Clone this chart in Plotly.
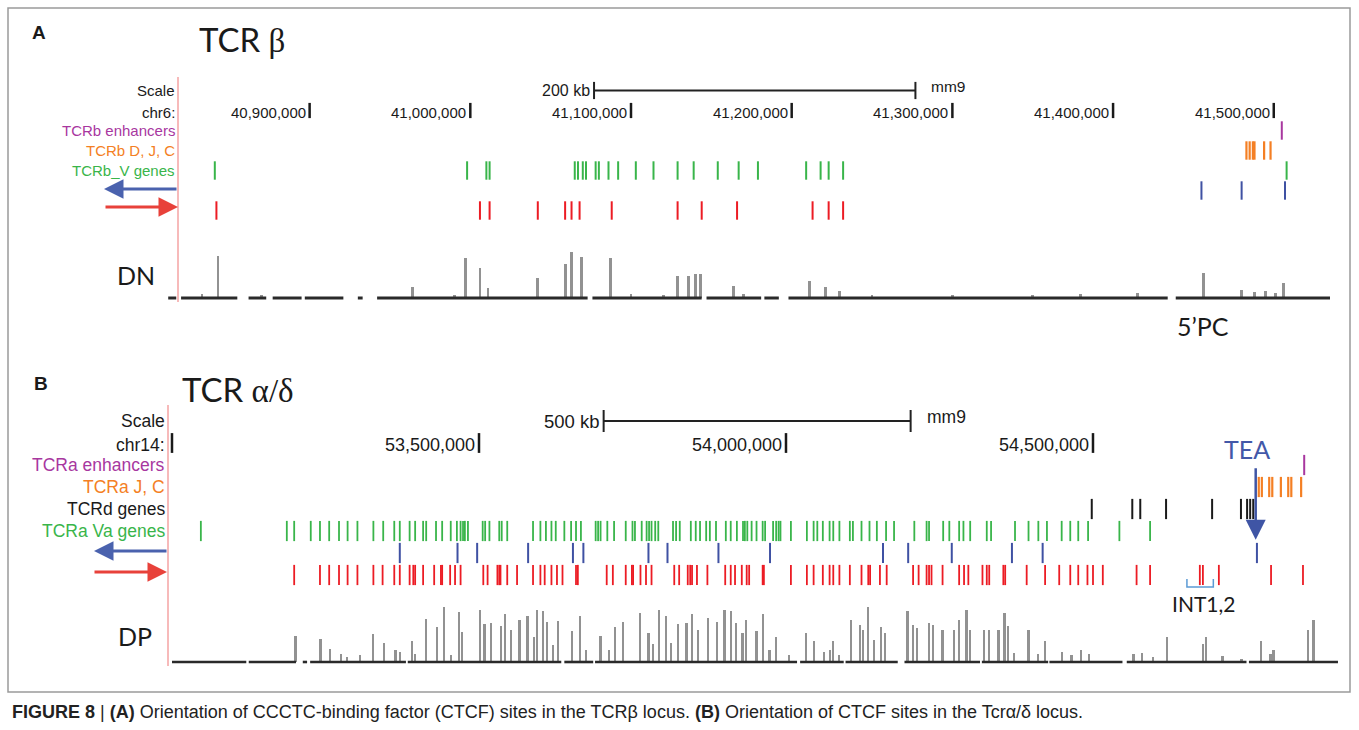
import plotly.graph_objects as go

W, H = 1359, 730

# ================= Panel A : TCRb locus (mm9 chr6, positions in kb) =================
A_TICKS_KB = [40900, 41000, 41100, 41200, 41300, 41400, 41500]
A_TICK_LABELS = ["40,900,000", "41,000,000", "41,100,000", "41,200,000",
                 "41,300,000", "41,400,000", "41,500,000"]
A_SCALE_START_KB = 41077
A_SCALE_LEN_KB = 200
A_ENHANCERS = [41505]
A_DJC = [41483, 41485, 41487, 41488, 41494, 41498]
A_V_GENES = [40841, 40998, 41010, 41012, 41065, 41067, 41070, 41072, 41078, 41080,
             41086, 41092, 41103, 41114, 41129, 41139, 41154, 41167, 41179, 41209,
             41218, 41223, 41232, 41508]
A_CTCF_REV = [41455, 41480, 41507]
A_CTCF_FWD = [40842, 41006, 41012, 41042, 41059, 41063, 41068, 41088, 41129, 41144,
              41166, 41213, 41223, 41232]
A_DN_SEGMENTS = [(40812, 40817), (40820, 40855), (40862, 40873), (40877, 40895),
                 (40897, 40921), (40930, 40933), (40942, 41073), (41076, 41144),
                 (41147, 41181), (41183, 41192), (41198, 41434), (41439, 41535)]
A_DN_PEAK_POS = [40833, 40843, 40870, 40964, 40990, 40997, 41006, 41011, 41042, 41059,
                 41063, 41069, 41087, 41100, 41120, 41129, 41136, 41140, 41143, 41164,
                 41170, 41211, 41221, 41230, 41250, 41300, 41350, 41380, 41415, 41456,
                 41480, 41488, 41495, 41501, 41506]
A_DN_PEAK_H = [4, 42, 3, 11, 3, 40, 30, 10, 20, 34,
               46, 41, 40, 4, 3, 22, 22, 24, 24, 12,
               4, 17, 11, 7, 3, 3, 3, 4, 5, 25,
               8, 6, 7, 5, 15]

# ================= Panel B : TCRa/d locus (mm9 chr14, positions in kb) =================
B_TICKS_KB = [53000, 53500, 54000, 54500]
B_TICK_LABELS = ["", "53,500,000", "54,000,000", "54,500,000"]
B_SCALE_START_KB = 53703
B_SCALE_LEN_KB = 500
B_ENHANCERS = [54844]
B_JC = [54770, 54775, 54787, 54792, 54806, 54818, 54823, 54839]
B_D_GENES = [54498, 54564, 54577, 54619, 54694, 54741, 54751, 54756, 54761]
B_VA_GENES = [53047, 53187, 53199, 53226, 53241, 53256, 53272, 53286, 53302, 53328,
              53344, 53362, 53371, 53387, 53396, 53409, 53414, 53430, 53440, 53454,
              53464, 53470, 53474, 53477, 53482, 53506, 53510, 53517, 53533, 53537,
              53546, 53588, 53600, 53609, 53618, 53625, 53639, 53650, 53658, 53666,
              53690, 53694, 53698, 53709, 53720, 53739, 53750, 53754, 53765, 53773,
              53777, 53781, 53787, 53792, 53816, 53821, 53827, 53845, 53853, 53860,
              53870, 53876, 53886, 53902, 53910, 53920, 53930, 53933, 53937, 53944,
              53952, 53962, 53966, 53979, 53984, 53988, 53991, 54008, 54034, 54045,
              54051, 54060, 54071, 54077, 54087, 54104, 54109, 54123, 54136, 54148,
              54163, 54176, 54209, 54229, 54233, 54256, 54266, 54282, 54289, 54300,
              54327, 54334, 54373, 54395, 54411, 54425, 54449, 54463, 54476, 54492,
              54543, 54593]
B_CTCF_REV = [53371, 53465, 53497, 53580, 53653, 53670, 53776, 53807, 53890, 53974,
              54158, 54199, 54270, 54368, 54418, 54767]
B_CTCF_FWD = [53199, 53241, 53256, 53272, 53286, 53302, 53328, 53343, 53362, 53371,
              53387, 53393, 53396, 53409, 53427, 53438, 53440, 53453, 53461, 53470,
              53507, 53514, 53530, 53533, 53535, 53546, 53562, 53588, 53600, 53607,
              53618, 53627, 53636, 53658, 53661, 53708, 53718, 53739, 53749, 53751,
              53763, 53772, 53781, 53818, 53826, 53840, 53844, 53847, 53855, 53872,
              53901, 53910, 53917, 53928, 53936, 53940, 53962, 53964, 54008, 54034,
              54045, 54060, 54071, 54077, 54087, 54104, 54123, 54134, 54137, 54153,
              54164, 54207, 54216, 54229, 54233, 54237, 54255, 54282, 54290, 54297,
              54320, 54327, 54331, 54354, 54357, 54392, 54422, 54445, 54463, 54476,
              54491, 54500, 54516, 54571, 54593, 54674, 54679, 54705, 54790, 54842]
B_TEA_KB = 54765
B_INT_REGION = (54653, 54696)
B_DP_SEGMENTS = [(53000, 53121), (53125, 53202), (53213, 53220), (53225, 53381),
                 (53384, 53634), (53639, 53686), (53689, 54018), (54023, 54094),
                 (54097, 54182), (54193, 54316), (54319, 54427), (54429, 54548),
                 (54555, 54750), (54754, 54899)]
B_DP_PEAK_POS = [53201, 53242, 53257, 53275, 53285, 53306, 53328, 53345, 53364, 53371,
                 53391, 53396, 53414, 53431, 53443, 53454, 53467, 53472, 53501, 53509,
                 53520, 53536, 53542, 53552, 53566, 53579, 53590, 53595, 53604, 53611,
                 53620, 53629, 53651, 53664, 53674, 53698, 53712, 53722, 53735, 53762,
                 53776, 53783, 53793, 53804, 53813, 53824, 53838, 53847, 53857, 53873,
                 53888, 53900, 53911, 53918, 53929, 53935, 53952, 53962, 53973, 53984,
                 54005, 54033, 54045, 54062, 54072, 54077, 54086, 54106, 54120, 54125,
                 54134, 54143, 54155, 54161, 54198, 54207, 54214, 54233, 54239, 54255,
                 54273, 54282, 54294, 54300, 54323, 54330, 54346, 54356, 54361, 54371,
                 54395, 54411, 54422, 54450, 54465, 54480, 54493, 54566, 54580, 54598,
                 54621, 54679, 54684, 54711, 54742, 54774, 54789, 54794, 54850, 54859]
B_DP_PEAK_H = [26, 23, 13, 8, 5, 7, 28, 19, 12, 10,
               21, 8, 43, 35, 55, 7, 50, 30, 52, 38,
               39, 36, 48, 32, 42, 46, 25, 52, 51, 40,
               17, 41, 31, 46, 12, 26, 12, 35, 40, 49,
               29, 18, 52, 46, 19, 38, 39, 48, 32, 44,
               40, 52, 51, 39, 29, 42, 31, 48, 12, 25,
               7, 29, 21, 10, 12, 21, 7, 42, 37, 32,
               55, 22, 35, 29, 51, 37, 34, 39, 37, 32,
               32, 42, 52, 32, 32, 32, 32, 49, 36, 9,
               32, 8, 21, 10, 7, 12, 8, 8, 9, 5,
               25, 18, 25, 6, 3, 21, 8, 12, 32, 42]

# ================= styles =================
PURPLE = "#a8379f"
ORANGE = "#f47f24"
GREEN = "#39b54a"
BLUE = "#3f51a3"
RED = "#ec1c24"
BLACK = "#1a1a1a"
GRAY_PEAK = "rgba(110,110,110,0.75)"
UCSC_FONT = "Liberation Sans"
TITLE_FONT = "Lato"


def py(p):
    return 1 - p / H


def px(p):
    return p / W


fig = go.Figure()


def tick_trace(xs, row, half, color, width, xa, ya):
    X, Y = [], []
    for x in xs:
        X += [x, x, None]
        Y += [row - half, row + half, None]
    return go.Scatter(x=X, y=Y, mode="lines", line=dict(color=color, width=width),
                      xaxis=xa, yaxis=ya, hoverinfo="skip", showlegend=False)


def seg_trace(segs, color, width, xa, ya):
    X, Y = [], []
    for s, e in segs:
        X += [s, e, None]
        Y += [0, 0, None]
    return go.Scatter(x=X, y=Y, mode="lines", line=dict(color=color, width=width),
                      xaxis=xa, yaxis=ya, hoverinfo="skip", showlegend=False)


# ---- Panel A tracks (rows: 0 enh, 1 DJC, 2 V, 3 rev, 4 fwd; -2 scale, -1 chr)
fig.add_trace(tick_trace(A_ENHANCERS, 0, 0.46, PURPLE, 2, "x", "y"))
fig.add_trace(tick_trace(A_DJC, 1, 0.46, ORANGE, 2.2, "x", "y"))
fig.add_trace(tick_trace(A_V_GENES, 2, 0.46, GREEN, 2, "x", "y"))
fig.add_trace(tick_trace(A_CTCF_REV, 3, 0.46, BLUE, 2, "x", "y"))
fig.add_trace(tick_trace(A_CTCF_FWD, 4, 0.46, RED, 2, "x", "y"))
fig.add_trace(tick_trace(A_TICKS_KB, -1, 0.38, BLACK, 2.5, "x", "y"))
# scale bar A
a_s0, a_s1 = A_SCALE_START_KB, A_SCALE_START_KB + A_SCALE_LEN_KB
fig.add_trace(go.Scatter(x=[a_s0, a_s1, None, a_s0, a_s0, None, a_s1, a_s1],
                         y=[-2, -2, None, -2.43, -1.57, None, -2.43, -1.57],
                         mode="lines", line=dict(color="#222", width=2),
                         xaxis="x", yaxis="y", hoverinfo="skip", showlegend=False))
# DN signal
fig.add_trace(go.Bar(x=A_DN_PEAK_POS, y=A_DN_PEAK_H, width=1.8,
                     marker=dict(color=GRAY_PEAK, line=dict(width=0)),
                     xaxis="x", yaxis="y3", hoverinfo="skip", showlegend=False))
fig.add_trace(seg_trace(A_DN_SEGMENTS, "#2a2a2a", 3, "x", "y3"))

# ---- Panel B tracks (rows: 0 enh, 1 JC, 2 d genes, 3 Va, 4 rev, 5 fwd)
fig.add_trace(tick_trace(B_ENHANCERS, 0, 0.46, PURPLE, 2, "x2", "y2"))
fig.add_trace(tick_trace(B_JC, 1, 0.46, ORANGE, 2.2, "x2", "y2"))
fig.add_trace(tick_trace(B_D_GENES, 2, 0.46, BLACK, 2, "x2", "y2"))
fig.add_trace(tick_trace(B_VA_GENES, 3, 0.46, GREEN, 1.8, "x2", "y2"))
fig.add_trace(tick_trace(B_CTCF_REV, 4, 0.46, BLUE, 2, "x2", "y2"))
fig.add_trace(tick_trace(B_CTCF_FWD, 5, 0.46, RED, 1.8, "x2", "y2"))
fig.add_trace(tick_trace(B_TICKS_KB, -1, 0.45, BLACK, 2.5, "x2", "y2"))
b_s0, b_s1 = B_SCALE_START_KB, B_SCALE_START_KB + B_SCALE_LEN_KB
fig.add_trace(go.Scatter(x=[b_s0, b_s1, None, b_s0, b_s0, None, b_s1, b_s1],
                         y=[-2, -2, None, -2.5, -1.5, None, -2.5, -1.5],
                         mode="lines", line=dict(color="#222", width=2),
                         xaxis="x2", yaxis="y2", hoverinfo="skip", showlegend=False))
# INT1,2 bracket
i0, i1 = B_INT_REGION
fig.add_trace(go.Scatter(x=[i0, i0, i1, i1], y=[5.18, 5.55, 5.55, 5.18], mode="lines",
                         line=dict(color="#5b9bd5", width=1.5), xaxis="x2", yaxis="y2",
                         hoverinfo="skip", showlegend=False))
# DP signal
fig.add_trace(go.Bar(x=B_DP_PEAK_POS, y=B_DP_PEAK_H, width=3.6,
                     marker=dict(color=GRAY_PEAK, line=dict(width=0)),
                     xaxis="x2", yaxis="y4", hoverinfo="skip", showlegend=False))
fig.add_trace(seg_trace(B_DP_SEGMENTS, "#2a2a2a", 2.6, "x2", "y4"))

ann = []


def add_text(text, x, y, size, color="#1a1a1a", font=UCSC_FONT, xanchor="left",
             yanchor="middle", xref="paper", yref="paper", xshift=0, yshift=0):
    ann.append(dict(text=text, x=x, y=y, xref=xref, yref=yref, showarrow=False,
                    xanchor=xanchor, yanchor=yanchor, xshift=xshift, yshift=yshift,
                    font=dict(family=font, size=size, color=color)))


# panel letters & titles
add_text("<b>A</b>", px(30), py(33), 19, font="Liberation Sans")
add_text("<b>B</b>", px(32), py(384), 19, font="Liberation Sans")
add_text("TCR <span style='font-family:Liberation Serif'>β</span>", px(197), py(39), 33, font=TITLE_FONT)
add_text("TCR <span style='font-family:Liberation Serif'>α/δ</span>", px(180), py(389), 33, font=TITLE_FONT)

# left labels A
for txt, row, col in [("Scale", -2, BLACK), ("chr6:", -1, BLACK),
                      ("TCRb enhancers", 0, PURPLE), ("TCRb D, J, C", 1, ORANGE),
                      ("TCRb_V genes", 2, GREEN)]:
    add_text(txt, px(176.5), row, 15, color=col, xanchor="right", yref="y",
             yshift=-2 if row == -1 else 0)
# left labels B
for txt, row, col in [("Scale", -2, BLACK), ("chr14:", -1, BLACK),
                      ("TCRa enhancers", 0, PURPLE), ("TCRa J, C", 1, ORANGE),
                      ("TCRd genes", 2, BLACK), ("TCRa Va genes", 3, GREEN)]:
    add_text(txt, px(167), row, 17.5, color=col, xanchor="right", yref="y2",
             yshift=-2 if row == -1 else 0)

# chromosome tick labels
for kb, lab in zip(A_TICKS_KB, A_TICK_LABELS):
    add_text(lab, kb, -1, 15, xanchor="right", xref="x", yref="y", xshift=-2, yshift=-2)
for kb, lab in zip(B_TICKS_KB, B_TICK_LABELS):
    if lab:
        add_text(lab, kb, -1, 18, xanchor="right", xref="x2", yref="y2", xshift=-2, yshift=-2)

# scale bar labels
add_text(f"{A_SCALE_LEN_KB} kb", a_s0, -2, 16, xanchor="right", xref="x", yref="y", xshift=-2)
add_text("mm9", a_s1, -2, 15.5, xanchor="left", xref="x", yref="y", xshift=14, yshift=4)
add_text(f"{B_SCALE_LEN_KB} kb", b_s0, -2, 18.5, xanchor="right", xref="x2", yref="y2", xshift=-2)
add_text("mm9", b_s1, -2, 17.5, xanchor="left", xref="x2", yref="y2", xshift=14, yshift=4)

# track annotations
add_text("DN", px(136), py(275), 25, font=TITLE_FONT, xanchor="center")
add_text("DP", px(135), py(636), 25, font=TITLE_FONT, xanchor="center")
add_text("5’PC", px(1203), py(326), 25, font=TITLE_FONT, xanchor="center")
add_text("INT1,2", (i0 + i1) / 2 + 6, py(603), 21, font=TITLE_FONT, xanchor="center", xref="x2")
add_text("TEA", B_TEA_KB - 14, -0.75, 25, color="#4358a8", font=TITLE_FONT, xanchor="center",
         xref="x2", yref="y2")

# caption
add_text("<b>FIGURE 8</b> | <b>(A)</b> Orientation of CCCTC-binding factor (CTCF) sites in the TCRβ locus. "
         "<b>(B)</b> Orientation of CTCF sites in the Tcrα/δ locus.",
         px(10), py(712), 18, color="#222")

# arrows (strand orientation)
ann.append(dict(x=px(104), y=py(189), xref="paper", yref="paper", ax=74, ay=0,
                showarrow=True, arrowhead=2, arrowsize=1.3, arrowwidth=3, arrowcolor="#4a62ae", text=""))
ann.append(dict(x=px(178), y=py(207), xref="paper", yref="paper", ax=-74, ay=0,
                showarrow=True, arrowhead=2, arrowsize=1.3, arrowwidth=3, arrowcolor="#e8413a", text=""))
ann.append(dict(x=px(94), y=py(551), xref="paper", yref="paper", ax=74, ay=0,
                showarrow=True, arrowhead=2, arrowsize=1.3, arrowwidth=3, arrowcolor="#4a62ae", text=""))
ann.append(dict(x=px(167), y=py(572), xref="paper", yref="paper", ax=-74, ay=0,
                showarrow=True, arrowhead=2, arrowsize=1.3, arrowwidth=3, arrowcolor="#e8413a", text=""))
# TEA arrow
ann.append(dict(x=B_TEA_KB, y=3.4, xref="x2", yref="y2", ax=0, ay=-73,
                showarrow=True, arrowhead=2, arrowsize=1.6, arrowwidth=2.5, arrowcolor="#3f55a5", text=""))

shapes = [
    dict(type="rect", xref="paper", yref="paper", x0=px(8), x1=px(1350), y0=py(692), y1=py(8),
         line=dict(color="#9a9a9a", width=1.5)),
    dict(type="line", xref="paper", yref="paper", x0=px(178), x1=px(178), y0=py(77), y1=py(302),
         line=dict(color="#f4a3a3", width=1.5)),
    dict(type="line", xref="paper", yref="paper", x0=px(168), x1=px(168), y0=py(405), y1=py(666),
         line=dict(color="#f4a3a3", width=1.5)),
]

hid = dict(visible=False, showgrid=False, zeroline=False, fixedrange=True)
fig.update_layout(
    width=W, height=H, margin=dict(l=0, r=0, t=0, b=0),
    paper_bgcolor="white", plot_bgcolor="rgba(0,0,0,0)",
    barmode="overlay", bargap=0, showlegend=False, hovermode=False,
    xaxis=dict(domain=[px(165), px(1330)], range=[40810, 41535], anchor="y", **hid),
    xaxis2=dict(domain=[px(165), px(1340)], range=[52988.6, 54902.3], anchor="y2", **hid),
    yaxis=dict(domain=[py(230), py(60)], range=[4.975, -3.525], anchor="x", **hid),
    yaxis2=dict(domain=[py(600), py(390)], range=[6.1364, -3.4091], anchor="x2", **hid),
    yaxis3=dict(domain=[py(300), py(247)], range=[-2, 51], anchor="x", **hid),
    yaxis4=dict(domain=[py(665), py(600)], range=[-3, 62], anchor="x2", **hid),
    annotations=ann, shapes=shapes,
)

fig.write_html("out.html", config={"displayModeBar": False},
               post_script="document.body.style.margin='0';document.body.style.overflow='hidden';")
